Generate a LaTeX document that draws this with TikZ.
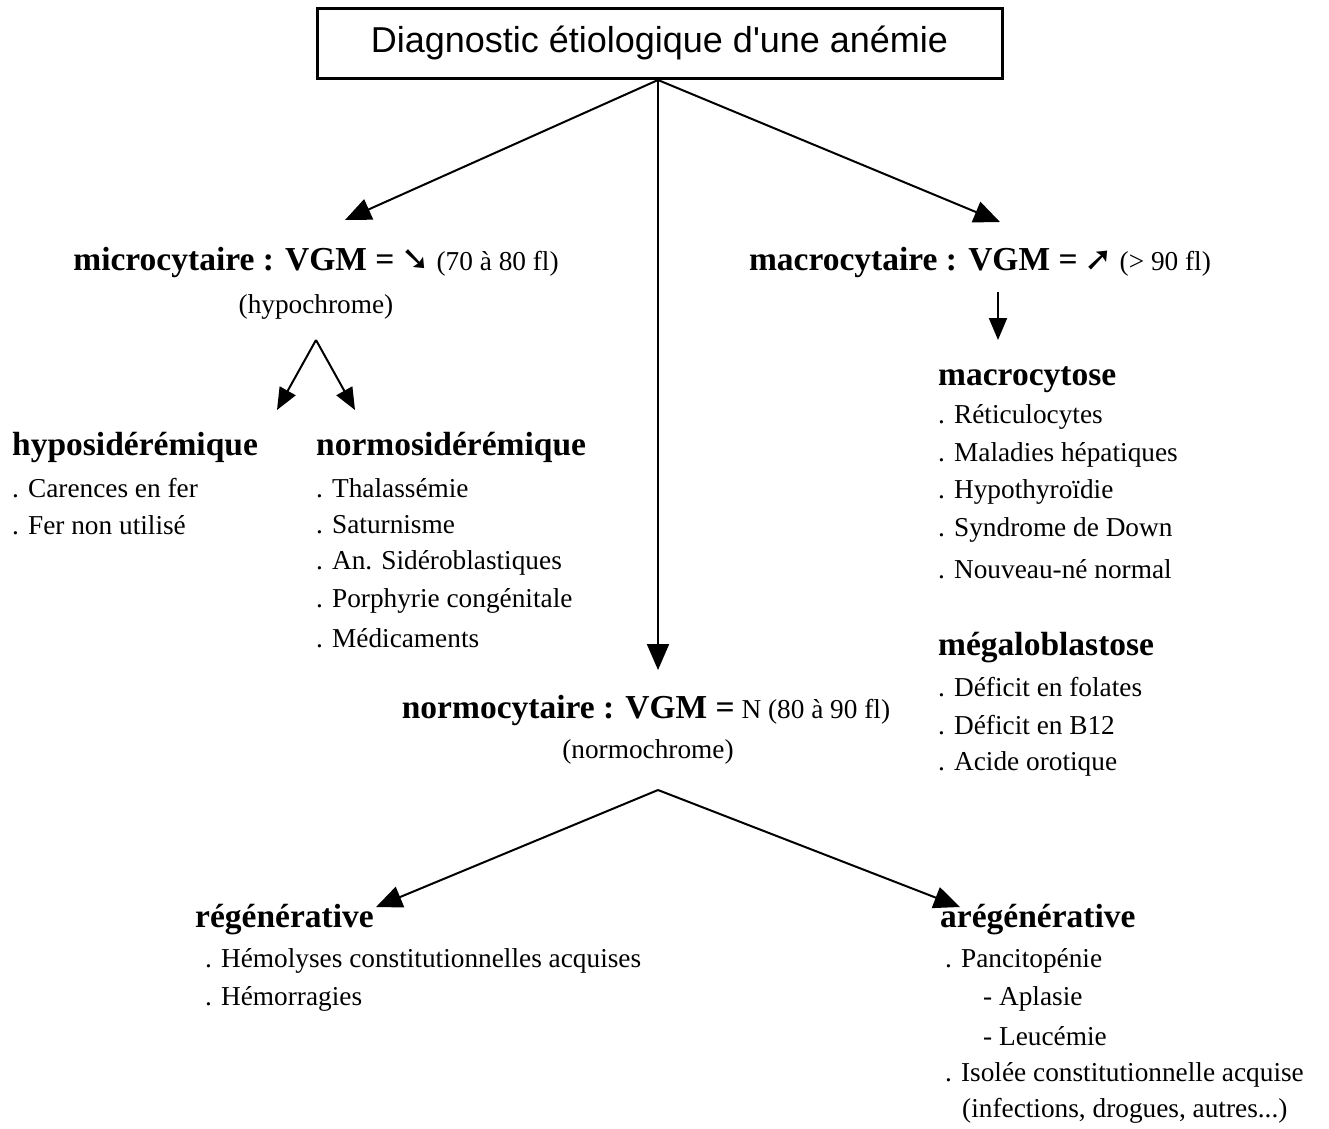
\documentclass[tikz,border=0pt]{standalone}
\usepackage{fontspec}
\setmainfont{Liberation Serif}
\newfontfamily\titlefont{Liberation Sans}
\newfontfamily\symfont{DejaVu Sans}
\usetikzlibrary{arrows.meta}
\newcommand{\hdfont}{\fontsize{33.5}{38}\selectfont\bfseries}
\newcommand{\itfont}{\fontsize{27.3}{32}\selectfont}
\newcommand{\arrglyph}[1]{{\symfont\bfseries\fontsize{34}{30}\selectfont #1}}
\tikzset{
  x=1pt,y=-1pt,
  conn/.style={line width=2pt,-{Triangle[length=26pt,width=22pt]}},
  smallconn/.style={line width=2pt,-{Triangle[length=22pt,width=18pt]}},
  head/.style={anchor=west,inner sep=0pt,font=\hdfont},
  item/.style={anchor=west,inner sep=0pt,font=\itfont},
  ctext/.style={anchor=center,inner sep=0pt,font=\itfont},
}
\begin{document}
\begin{tikzpicture}
\useasboundingbox[fill=white] (0,0) rectangle (1329,1128);
% title
\node[draw,line width=3pt,minimum width=685pt,minimum height=70pt,inner sep=0pt,
  font=\titlefont\fontsize{36}{40}\selectfont] (title) at (659.5,43)
  {Diagnostic étiologique d'une anémie};
\coordinate (top) at (658,80);

% microcytaire
\node[ctext] (micro) at (316,262) {{\hdfont microcytaire : VGM =} \arrglyph{➘}~(70 à 80 fl)};
\node[ctext] (hypo) at (316,307) {(hypochrome)};
\coordinate (hsplit) at (316,340);

% macrocytaire
\node[ctext] (macro) at (980,262) {{\hdfont macrocytaire : VGM =} \arrglyph{➚}~(> 90 fl)};
\coordinate (mdown) at (998,292);

% normocytaire
\node[ctext] (normo) at (646,710) {{\hdfont normocytaire : VGM =} N (80 à 90 fl)};
\node[ctext] (normoch) at (648,752) {(normochrome)};
\coordinate (nsplit) at (658,790);

% connectors from title
\draw[conn] (top) -- (345,220) coordinate (microtip);
\draw[conn] (top) -- (658,670) coordinate (normotip);
\draw[conn] (top) -- (1000,222) coordinate (macrotip);

% micro split
\draw[smallconn] (hsplit) -- (277,410) coordinate (hypotip);
\draw[smallconn] (hsplit) -- (355,410) coordinate (normositip);

% macro down
\draw[smallconn] (mdown) -- (998,340) coordinate (macrotip2);

% normo split
\draw[conn] (nsplit) -- (376,907) coordinate (regtip);
\draw[conn] (nsplit) -- (960,907) coordinate (aregtip);

% hyposideremique
\node[head] (hs) at (12,447) {hyposidérémique};
\node[item] (hs1) at (12,488) {. Carences en fer};
\node[item] (hs2) at (12,525) {. Fer non utilisé};

% normosideremique
\node[head] (ns) at (316,447) {normosidérémique};
\node[item] (ns1) at (316,488) {. Thalassémie};
\node[item] (ns2) at (316,525) {. Saturnisme};
\node[item] (ns3) at (316,563) {. An. Sidéroblastiques};
\node[item] (ns4) at (316,601) {. Porphyrie congénitale};
\node[item] (ns5) at (316,638) {. Médicaments};

% macrocytose
\node[head] (mc) at (938,380) {macrocytose};
\node[item] (mc1) at (938,417) {. Réticulocytes};
\node[item] (mc2) at (938,455) {. Maladies hépatiques};
\node[item] (mc3) at (938,492) {. Hypothyroïdie};
\node[item] (mc4) at (938,530) {. Syndrome de Down};
\node[item] (mc5) at (938,569) {. Nouveau-né normal};

% megaloblastose
\node[head] (mg) at (938,648) {mégaloblastose};
\node[item] (mg1) at (938,687) {. Déficit en folates};
\node[item] (mg2) at (938,725) {. Déficit en B12};
\node[item] (mg3) at (938,764) {. Acide orotique};

% regenerative
\node[head] (rg) at (195,920) {régénérative};
\node[item] (rg1) at (205,961) {. Hémolyses constitutionnelles acquises};
\node[item] (rg2) at (205,999) {. Hémorragies};

% aregenerative
\node[head] (ag) at (940,920) {arégénérative};
\node[item] (ag1) at (945,961) {. Pancitopénie};
\node[item] (ag2) at (983,999) {- Aplasie};
\node[item] (ag3) at (983,1036) {- Leucémie};
\node[item] (ag4) at (945,1075) {. Isolée constitutionnelle acquise};
\node[item] (ag5) at (962,1111) {(infections, drogues, autres...)};
\end{tikzpicture}
\end{document}
